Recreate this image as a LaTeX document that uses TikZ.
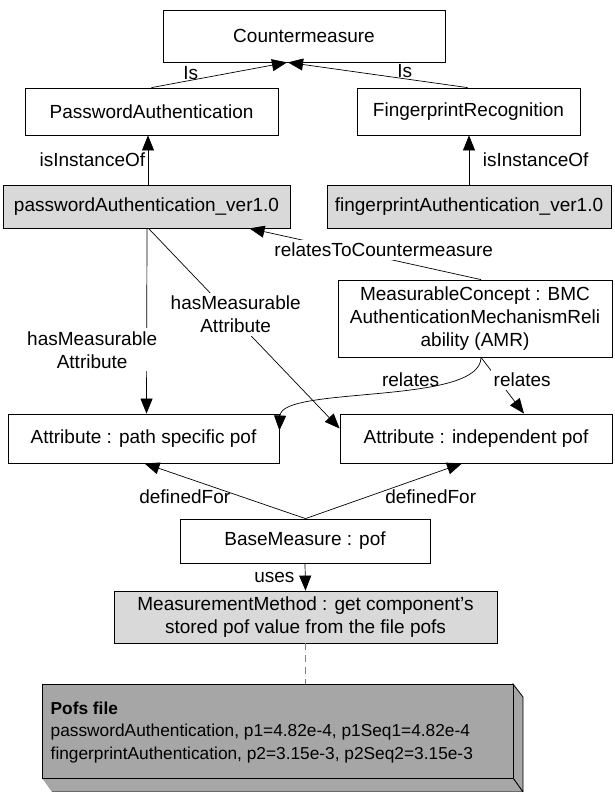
\documentclass[tikz,border=0pt]{standalone}
\usepackage{fontspec}
\setmainfont{Liberation Sans}
\usetikzlibrary{arrows.meta}
\tikzset{
  box_/.style  = {shape=rectangle, draw, line width=0.8pt, align=center, inner sep=0pt},
  inst_/.style = {box_, fill=black!15},
  tag_/.style  = {inner sep=1.5pt, align=center},
  hide_/.style = {tag_, fill=white, inner sep=3pt}
}

\begin{document}
\begin{tikzpicture}
  [
  x = 1pt, y = -1pt,
  link_/.style      = {draw, line width=0.7pt, -{Triangle[length=15pt, width=12pt]}},
  every node/.style = {font=\fontsize{19}{23}\selectfont}
  ]
  \useasboundingbox (0,0) rectangle (614,792);
  % classes
  \node [box_, minimum width=282, minimum height=52] (cm) at (304,36) {Countermeasure};
  \node [box_, minimum width=253, minimum height=47] (pa) at (151.5,111.5) {PasswordAuthentication};
  \node [box_, minimum width=223, minimum height=47] (fr) at (468.5,111.5) {FingerprintRecognition};
  % instances
  \node [inst_, minimum width=287, minimum height=43] (pav) at (146.5,206.5) {passwordAuthentication\_ver1.0};
  \node [inst_, minimum width=284, minimum height=43] (fav) at (469,206.5) {fingerprintAuthentication\_ver1.0};
  % measurement part
  \node [box_, minimum width=274, minimum height=77] (mc) at (475,318.5) {MeasurableConcept : BMC\\AuthenticationMechanismReli\\ability (AMR)};
  \node [box_, minimum width=271, minimum height=49] (ap) at (143.5,438.5) {Attribute : path specific pof};
  \node [box_, minimum width=272, minimum height=49] (ai) at (476,438.5) {Attribute : independent pof};
  \node [box_, minimum width=250, minimum height=44] (bm) at (305,541) {BaseMeasure : pof};
  \node [inst_, minimum width=383, minimum height=52] (mm) at (305.5,617) {MeasurementMethod : get component’s\\stored pof value from the file pofs};
  % pofs file, drawn as a box
  \filldraw [fill=black!35, line width=0.8pt] (513,684) -- (523,697) -- (523,792) -- (513,778) -- cycle;
  \filldraw [fill=black!35, line width=0.8pt] (42,778) -- (513,778) -- (523,792) -- (52,792);
  \node [box_, fill=black!35, minimum width=471, minimum height=94, anchor=north west] (pofs) at (42,684) {};
  \node [tag_, anchor=north west, align=left, font=\fontsize{17.3}{22.5}\selectfont] (pofsText) at (49,700)
    {\textbf{Pofs file}\\passwordAuthentication, p1=4.82e-4, p1Seq1=4.82e-4\\fingerprintAuthentication, p2=3.15e-3, p2Seq2=3.15e-3};

  \draw [link_] (pa.north) -- ([xshift=-17]cm.south) node [tag_, pos=.29, above=-1pt] {Is};
  \draw [link_] ([xshift=-1]fr.north) -- ([xshift=-16]cm.south) node [tag_, pos=.35, above=-1pt] {Is};
  \draw [link_] ([xshift=1.5]pav.north) -- ([xshift=-3.5]pa.south) node [tag_, midway, left=1pt] {isInstanceOf};
  \draw [link_] (fav.north) -- ([xshift=0.5]fr.south) node [tag_, midway, right=12pt] {isInstanceOf};
  \draw [link_] ([xshift=6]mc.north) -- ([xshift=103]pav.south)
    node [hide_, pos=.42, yshift=8pt] {relatesToCountermeasure};
  \draw [link_] ([xshift=0.5]pav.south) -- ([xshift=3]ap.north)
    node [hide_, pos=.656, xshift=-54.5pt] {hasMeasurable\\Attribute};
  \draw [link_] ([xshift=2]pav.south) -- ([yshift=10]ai.west)
    node [hide_, pos=.43, xshift=5pt] {hasMeasurable\\Attribute};
  \draw [link_] ([xshift=6]mc.south) -- ([xshift=48]ai.north)
    node [hide_, pos=.4, xshift=24pt] {relates};
  \draw [link_] ([xshift=6]mc.south) .. controls ([xshift=6,yshift=-48]mc.south) and ([xshift=2,yshift=53]ap.east) .. ([yshift=8]ap.east)
    node [tag_, pos=.4, above=2pt] {relates};
  \draw [link_] ([xshift=0.5]bm.north) -- ([xshift=1]ap.south) node [tag_, pos=.75, yshift=-20pt] {definedFor};
  \draw [link_] ([xshift=0.5]bm.north) -- ([xshift=-14]ai.south) node [tag_, pos=.8, yshift=-22pt] {definedFor};
  \draw [link_] (bm.south) -- (mm.north) node [tag_, midway, left=9pt] {uses};
  \draw [gray, line width=0.6pt, dash pattern=on 7pt off 5pt] (mm.south) -- (mm.south |- pofs.north);
\end{tikzpicture}
\end{document}
